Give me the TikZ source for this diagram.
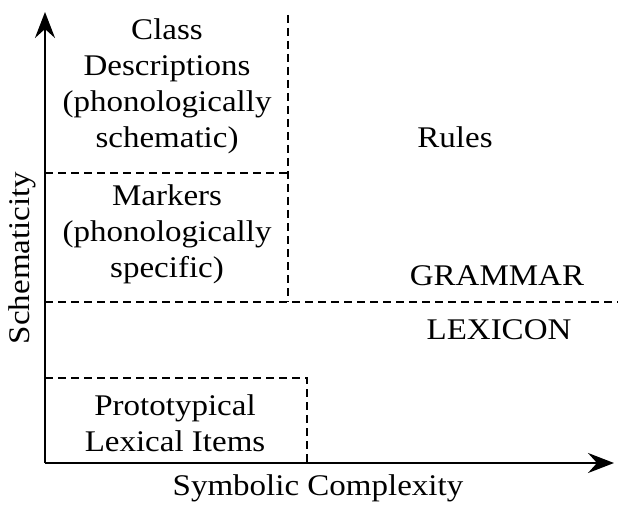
\documentclass[tikz,border=0pt]{standalone}
\usepackage{fontspec}
\setmainfont[FakeStretch=1.1]{Liberation Serif}
\usepackage{tikz}
\usetikzlibrary{arrows.meta,positioning,calc}

\begin{document}
\begin{tikzpicture}[x=1pt,y=-1pt,
  lbl/.style={align=center,inner sep=0pt,font=\fontsize{30}{36}\selectfont},
  axis/.style={-{Stealth[length=26pt,width=20pt,inset=9pt]},line width=2.6pt},
  divide/.style={line width=2.2pt,dash pattern=on 8pt off 5pt}
]
  \useasboundingbox (0,0) rectangle (618,505);
  % axes
  \coordinate (o) at (45,463);
  \coordinate (ytop) at (45,12);
  \coordinate (xend) at (614,463);
  \draw[axis] (o) -- (ytop);
  \draw[axis] (o) -- (xend);
  % dashed regions
  \coordinate (vtop) at (288,15);
  \coordinate (vbot) at (288,302);
  \coordinate (mid) at (45,173);
  \coordinate (midr) at (288,173);
  \coordinate (gl) at (45,302);
  \coordinate (gr) at (618,302);
  \coordinate (bl) at (45,378);
  \coordinate (br) at (307,378);
  \coordinate (bb) at (307,463);
  \draw[divide] (vtop) -- (vbot);
  \draw[divide] (mid) -- (midr);
  \draw[divide] (gl) -- (gr);
  \draw[divide] (bl) -- (br) -- (bb);
  % labels
  \node[lbl] (cls) at (167,86) {Class\\Descriptions\\(phonologically\\schematic)};
  \node[lbl] (mrk) at (167,234) {Markers\\(phonologically\\specific)};
  \node[lbl] (rules) at (455,137) {Rules};
  \node[lbl] (gram) at (497,276) {GRAMMAR};
  \node[lbl] (lex) at (499,330) {LEXICON};
  \node[lbl] (proto) at (175,423) {Prototypical\\Lexical Items};
  \node[lbl] (xlab) at (318,488) {Symbolic Complexity};
  \node[lbl,rotate=90] (ylab) at (22,258) {Schematicity};
\end{tikzpicture}
\end{document}
